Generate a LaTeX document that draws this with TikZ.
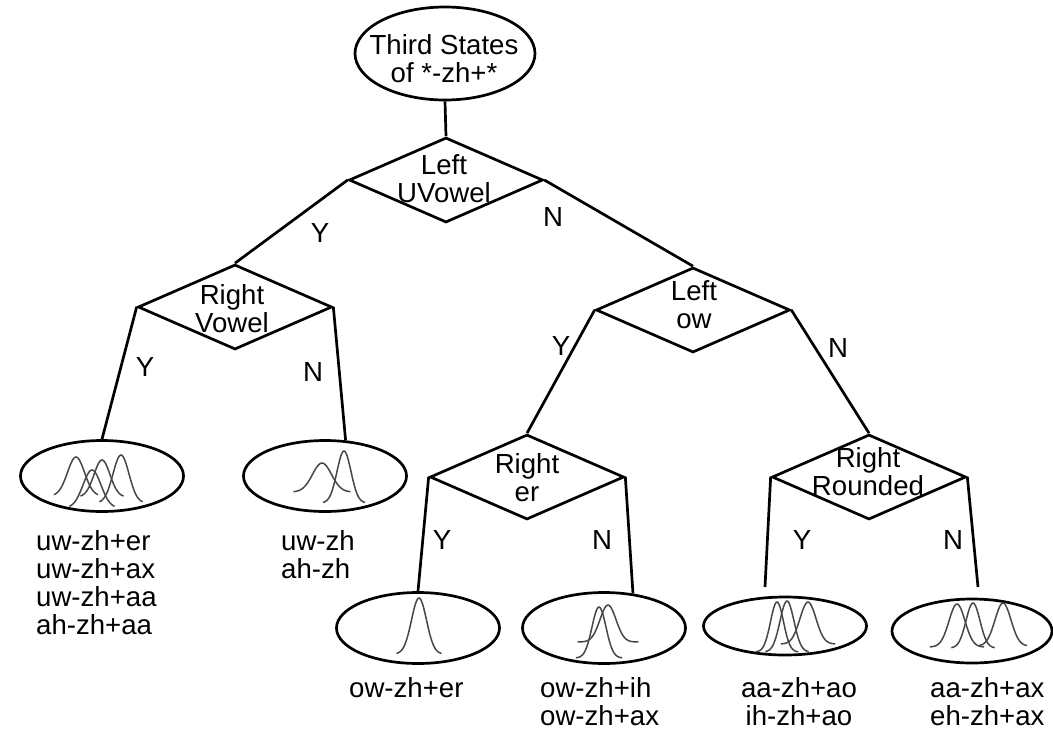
\documentclass[tikz,border=0pt]{standalone}
\usepackage{fontspec}
\setmainfont{Liberation Sans}
\usetikzlibrary{shapes.geometric}
% bell-shaped density curve: centre x, peak y, base y, sigma, half span (in sigmas)
\newcommand\bellcurve[5]{%
  \draw[bell] plot[domain=-#5:#5, samples=41, smooth]
    ({#1+\x*#4},{#3-(#3-#2)*exp(-\x*\x/2)});}
\begin{document}
\begin{tikzpicture}[x=1pt,y=-1pt,
  every node/.style={font=\fontsize{27.6}{28}\selectfont, inner sep=0pt},
  conn/.style={line width=2.7pt},
  dec/.style={diamond, draw, line width=2.7pt, minimum width=194pt, minimum height=85pt},
  rootnode/.style={ellipse, draw, line width=2.7pt, minimum width=180pt, minimum height=93pt},
  leaf/.style={ellipse, draw, line width=2.7pt, minimum width=163pt, minimum height=71pt},
  txt/.style={align=center},
  ltxt/.style={align=left, anchor=north west},
  bell/.style={draw=black!72, line width=1.5pt},
  yn/.style={}]
\useasboundingbox[fill=white] (0,0) rectangle (1053,732);

% root and decision nodes
\node[rootnode] (root) at (445,53.5) {};
\node[txt] (rootT) at (444,59) {Third States\\of *-zh+*};

\node[dec] (d1) at (446,180) {};
\node[txt] (d1T) at (444,178.5) {Left\\UVowel};
\node[dec] (d2) at (235,307) {};
\node[txt] (d2T) at (232,309) {Right\\Vowel};
\node[dec] (d3) at (693,310) {};
\node[txt] (d3T) at (694,305) {Left\\ow};
\node[dec] (d4) at (527,477) {};
\node[txt] (d4T) at (527,478) {Right\\er};
\node[dec] (d5) at (869,477) {};
\node[txt] (d5T) at (868,472) {Right\\Rounded};

% leaf clusters
\node[leaf] (l1) at (102,476) {};
\node[leaf] (l2) at (325,476) {};
\node[leaf] (l3) at (418,628) {};
\node[leaf] (l4) at (604,628) {};
\node[leaf, minimum height=58pt] (l5) at (785,626) {};
\node[leaf, minimum width=160pt, minimum height=64pt] (l6) at (972,631) {};
\coordinate (s5) at (765,587);
\coordinate (s6) at (978,587);

% connectors
\draw[conn] (root.south) -- (d1.north);
\draw[conn] (d1.west) -- (d2.north);
\draw[conn] (d1.east) -- (d3.north);
\draw[conn] (d2.west) -- (l1.north);
\draw[conn] (d2.east) -- (l2.60);
\draw[conn] (d3.west) -- (d4.north);
\draw[conn] (d3.east) -- (d5.north);
\draw[conn] (d4.west) -- (l3.north);
\draw[conn] (d4.east) -- (l4.50);
\draw[conn] (d5.west) -- (s5);
\draw[conn] (d5.east) -- (s6);

% branch labels
\node[yn] (y1) at (320,233) {Y};
\node[yn] (n1) at (553,217) {N};
\node[yn] (y2) at (145,367) {Y};
\node[yn] (n2) at (313,372) {N};
\node[yn] (y3) at (561,346) {Y};
\node[yn] (n3) at (838,348) {N};
\node[yn] (y4) at (442,540) {Y};
\node[yn] (n4) at (602,540) {N};
\node[yn] (y5) at (802,540) {Y};
\node[yn] (n5) at (953,540) {N};

% density curves inside the leaves
\bellcurve{76}{457}{496}{8.5}{2.6}
\bellcurve{92}{470}{508}{9}{2.5}
\bellcurve{102}{460}{497}{8}{2.7}
\bellcurve{121}{455}{503}{8}{2.7}

\bellcurve{322}{463}{492}{9.5}{3}
\bellcurve{344}{451}{503}{7}{3}

\bellcurve{419}{598}{654}{7.5}{3}

\bellcurve{599}{607}{658}{7}{3.3}
\bellcurve{608}{605}{642}{8}{3.8}

\bellcurve{777}{602}{652}{6.5}{3.3}
\bellcurve{787}{601}{652}{7}{3.1}
\bellcurve{808}{602}{644}{8}{3.4}

\bellcurve{957}{604}{647}{8}{3.4}
\bellcurve{973}{603}{648}{7}{3.1}
\bellcurve{1003}{603}{646}{8}{3}

% leaf member lists
\node[ltxt] (l1T) at (36,530) {uw-zh+er\\uw-zh+ax\\uw-zh+aa\\ah-zh+aa};
\node[ltxt] (l2T) at (281,530) {uw-zh\\ah-zh};
\node[ltxt] (l3T) at (349,677) {ow-zh+er};
\node[ltxt] (l4T) at (540,677) {ow-zh+ih\\ow-zh+ax};
\node[txt, anchor=north] (l5T) at (799,677) {aa-zh+ao\\ih-zh+ao};
\node[ltxt] (l6T) at (930,677) {aa-zh+ax\\eh-zh+ax};
\end{tikzpicture}
\end{document}
